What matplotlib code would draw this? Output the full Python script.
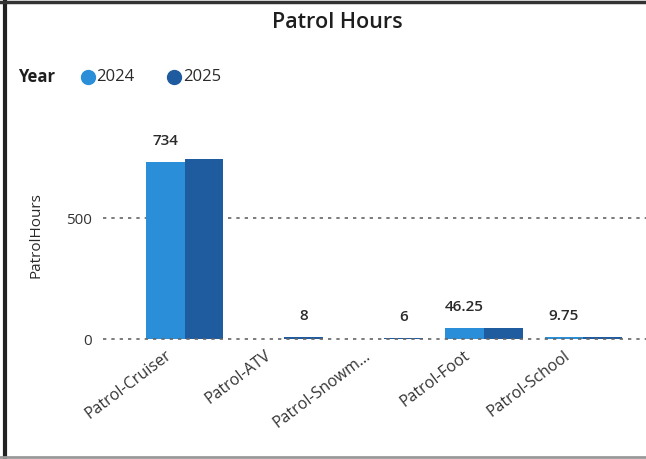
import matplotlib
matplotlib.use("Agg")
import matplotlib.pyplot as plt
from matplotlib.lines import Line2D
import numpy as np

# Chart data
categories = ["Patrol-Cruiser", "Patrol-ATV", "Patrol-Snowm...", "Patrol-Foot", "Patrol-School"]
years = ["2024", "2025"]
hours_2024 = [734, np.nan, np.nan, 46.25, 9.75]
hours_2025 = [745, 8, 6, 47, 7]
# which bar carries the visible data label (2024 or 2025)
label_year = ["2024", "2025", "2025", "2024", "2024"]
y_ticks = [0, 500]

color_2024 = "#2a8fd8"
color_2025 = "#1f5b9f"

plt.rcParams["font.family"] = ["Open Sans", "DejaVu Sans"]

fig = plt.figure(figsize=(6.46, 4.59), dpi=100)
ax = fig.add_axes([0.159, 0.2614, 0.86, 0.453])

x = np.arange(len(categories))
w = 0.39
ax.bar(x - w / 2, hours_2024, width=w, color=color_2024, zorder=2)
ax.bar(x + w / 2, hours_2025, width=w, color=color_2025, zorder=2)

# Data labels (only the ones Power BI shows)
for i, yr in enumerate(label_year):
    vals = hours_2024 if yr == "2024" else hours_2025
    xpos = x[i] - w / 2 if yr == "2024" else x[i] + w / 2
    v = vals[i]
    ax.annotate(f"{v:g}", (xpos, v), xytext=(0, 10), textcoords="offset points",
                ha="center", va="bottom", fontsize=11, color="#2a2a2a", fontweight="semibold")

ax.set_xlim(-0.82, 4.75)
ax.set_ylim(0, 860)
ax.set_yticks(y_ticks)
ax.set_yticklabels([str(t) for t in y_ticks], fontsize=11, color="#333333")
# slanted labels sit a bit left of the category centre (no tick marks drawn)
ax.set_xticks(x - 0.2)
ax.set_xticklabels(categories, rotation=37, ha="right", rotation_mode="anchor",
                   fontsize=11.5, color="#333333")
ax.tick_params(axis="both", length=0)
ax.tick_params(axis="y", pad=8)
ax.tick_params(axis="x", pad=6)
for t in y_ticks:
    ax.axhline(t, linestyle=(0, (2, 3)), color="#666666", linewidth=1.2, zorder=3 if t == 0 else 1,
               clip_on=False)
for s in ax.spines.values():
    s.set_visible(False)
ax.set_ylabel("PatrolHours", fontsize=11, color="#2a2a2a", labelpad=16)

# Title and legend
fig.text(0.522, 0.952, "Patrol Hours", ha="center", va="center", fontsize=15.5,
         fontweight="semibold", color="#1e1e1e")
fig.text(0.028, 0.832, "Year", ha="left", va="center", fontsize=12,
         fontweight="bold", color="#1e1e1e")
fig.add_artist(Line2D([0.136], [0.832], marker="o", markersize=10, color=color_2024,
                      transform=fig.transFigure))
fig.text(0.149, 0.832, "2024", ha="left", va="center", fontsize=12, color="#2a2a2a")
fig.add_artist(Line2D([0.270], [0.832], marker="o", markersize=10, color=color_2025,
                      transform=fig.transFigure))
fig.text(0.283, 0.832, "2025", ha="left", va="center", fontsize=12, color="#2a2a2a")

# Dark frame edges seen in the screenshot
fig.add_artist(Line2D([0.008, 0.008], [0, 1], color="#222222", linewidth=3,
                      transform=fig.transFigure))
fig.add_artist(Line2D([0, 1], [0.995, 0.995], color="#333333", linewidth=2.5,
                      transform=fig.transFigure))
fig.add_artist(Line2D([0, 1], [0.004, 0.004], color="#999999", linewidth=2,
                      transform=fig.transFigure))

fig.savefig("out.png", dpi=100)
